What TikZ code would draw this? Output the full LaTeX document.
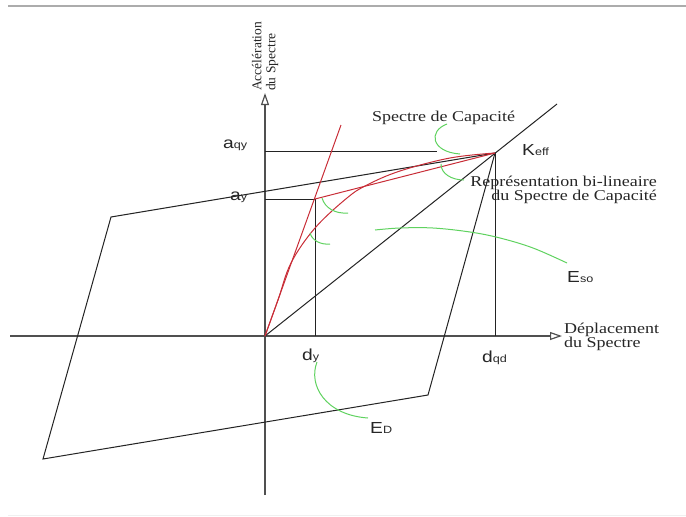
\documentclass[tikz,border=0pt]{standalone}
\usepackage{fontspec}
\setmainfont{Liberation Serif}
\newfontfamily\labfont{Liberation Sans}
\usetikzlibrary{arrows.meta}
\definecolor{redc}{RGB}{200,45,55}
\definecolor{greenc}{RGB}{95,210,95}
\definecolor{linec}{RGB}{35,35,35}
\definecolor{axisc}{RGB}{80,80,80}
\newcommand\mylbl[2]{\scalebox{1.2}[1]{\labfont\fontsize{16}{16}\selectfont #1\fontsize{10.5}{10.5}\selectfont #2}}
\newcommand\mytxt[1]{\scalebox{1.2}[1]{\fontsize{15}{15}\selectfont #1}}
\begin{document}
\begin{tikzpicture}[x=1pt,y=-1pt,
  thinline/.style={draw=linec, line width=1pt},
  axisline/.style={draw=axisc, line width=1.2pt, -{Triangle[open,length=12pt,width=8pt]}},
  redline/.style={draw=redc, line width=1pt},
  greenarc/.style={draw=greenc, line width=1pt},
  txt/.style={inner sep=0pt, text=black!85},
  lab/.style={inner sep=0pt, anchor=base west, text=black!85}]
\useasboundingbox (0,0) rectangle (686,517);
% frame lines
\coordinate (tl) at (8,6); \coordinate (tr) at (686,6);
\coordinate (bl) at (8,515); \coordinate (br) at (686,515);
\draw[gray!65, line width=1.2pt] (tl) -- (tr);
\draw[gray!12, line width=1pt] (bl) -- (br);
% key points
\coordinate (O) at (265,336);
\coordinate (K) at (495,153);
\coordinate (Y) at (315,199);
\coordinate (aqyA) at (265,151);
\coordinate (aqyE) at (437,151);
\coordinate (ayA) at (265,199);
\coordinate (dyB) at (315,336);
\coordinate (dqdB) at (495,336);
\coordinate (steepTop) at (341,125);
\coordinate (secTop) at (557,104);
\coordinate (H1) at (111,217);
\coordinate (H3) at (428,395);
\coordinate (H4) at (43,459);
\coordinate (yB) at (265,495);
\coordinate (yT) at (265,93);
\coordinate (xL) at (10,336);
\coordinate (xR) at (562,336);
% axes
\draw[axisline] (yB) -- (yT);
\draw[axisline] (xL) -- (xR);
% hysteresis loop
\draw[thinline] (H1) -- (K) -- (H3) -- (H4) -- cycle;
% secant
\draw[thinline] (O) -- (secTop);
% guide lines
\draw[thinline] (aqyA) -- (aqyE);
\draw[thinline] (ayA) -- (Y) -- (dyB);
\draw[thinline] (K) -- (dqdB);
% red lines
\draw[redline] (O) -- (steepTop);
\draw[redline] (Y) -- (K);
\draw[redline] plot[smooth, tension=0.6] coordinates {(O) (278,300) (291,263) (315,228) (347,198) (367,185) (400,171) (450,158) (K)};
% green arcs
\coordinate (g1a) at (447,124); \coordinate (g1b) at (460,154);
\draw[greenarc] (g1a) .. controls (428,131) and (431,152) .. (g1b);
\coordinate (g2a) at (441,164); \coordinate (g2b) at (464,180);
\draw[greenarc] (g2a) .. controls (441,174) and (452,180) .. (g2b);
\coordinate (g3a) at (322,198); \coordinate (g3b) at (348,213);
\draw[greenarc] (g3a) .. controls (325,208) and (335,214) .. (g3b);
\coordinate (g4a) at (310,233); \coordinate (g4b) at (330,244);
\draw[greenarc] (g4a) .. controls (312,240) and (320,245) .. (g4b);
\coordinate (g5a) at (375,230); \coordinate (g5b) at (567,263);
\draw[greenarc] plot[smooth, tension=0.6] coordinates {(g5a) (400,228) (433,228) (470,232) (500,238) (533,248) (g5b)};
\coordinate (g6a) at (317,362); \coordinate (g6b) at (368,418);
\draw[greenarc] (g6a) .. controls (308,385) and (325,415) .. (g6b);
% texts
\node[rotate=90, anchor=west, align=left, inner sep=0pt, text=black!85, font=\fontsize{13.5}{14}\selectfont] (ylab) at (265,91) {Accélération\\du Spectre};
\node[txt, anchor=base west] (xlab1) at (564,333) {\mytxt{Déplacement}};
\node[txt, anchor=base west] (xlab2) at (564,347) {\mytxt{du Spectre}};
\node[txt, anchor=base west] (spc) at (372,121) {\mytxt{Spectre de Capacité}};
\node[txt, anchor=base east] (rep1) at (657,186) {\mytxt{Représentation bi-lineaire}};
\node[txt, anchor=base east] (rep2) at (657,200) {\mytxt{du Spectre de Capacité}};
% labels
\node[lab] (laqy) at (223,148) {\mylbl{a}{qy}};
\node[lab] (lay) at (230,200) {\mylbl{a}{y}};
\node[lab] (lkeff) at (522,155) {\mylbl{K}{eff}};
\node[lab] (ldy) at (302,360) {\mylbl{d}{y}};
\node[lab] (ldqd) at (482,362) {\mylbl{d}{qd}};
\node[lab] (leso) at (567,282) {\mylbl{E}{so}};
\node[lab] (led) at (370,433) {\mylbl{E}{D}};
\end{tikzpicture}
\end{document}
